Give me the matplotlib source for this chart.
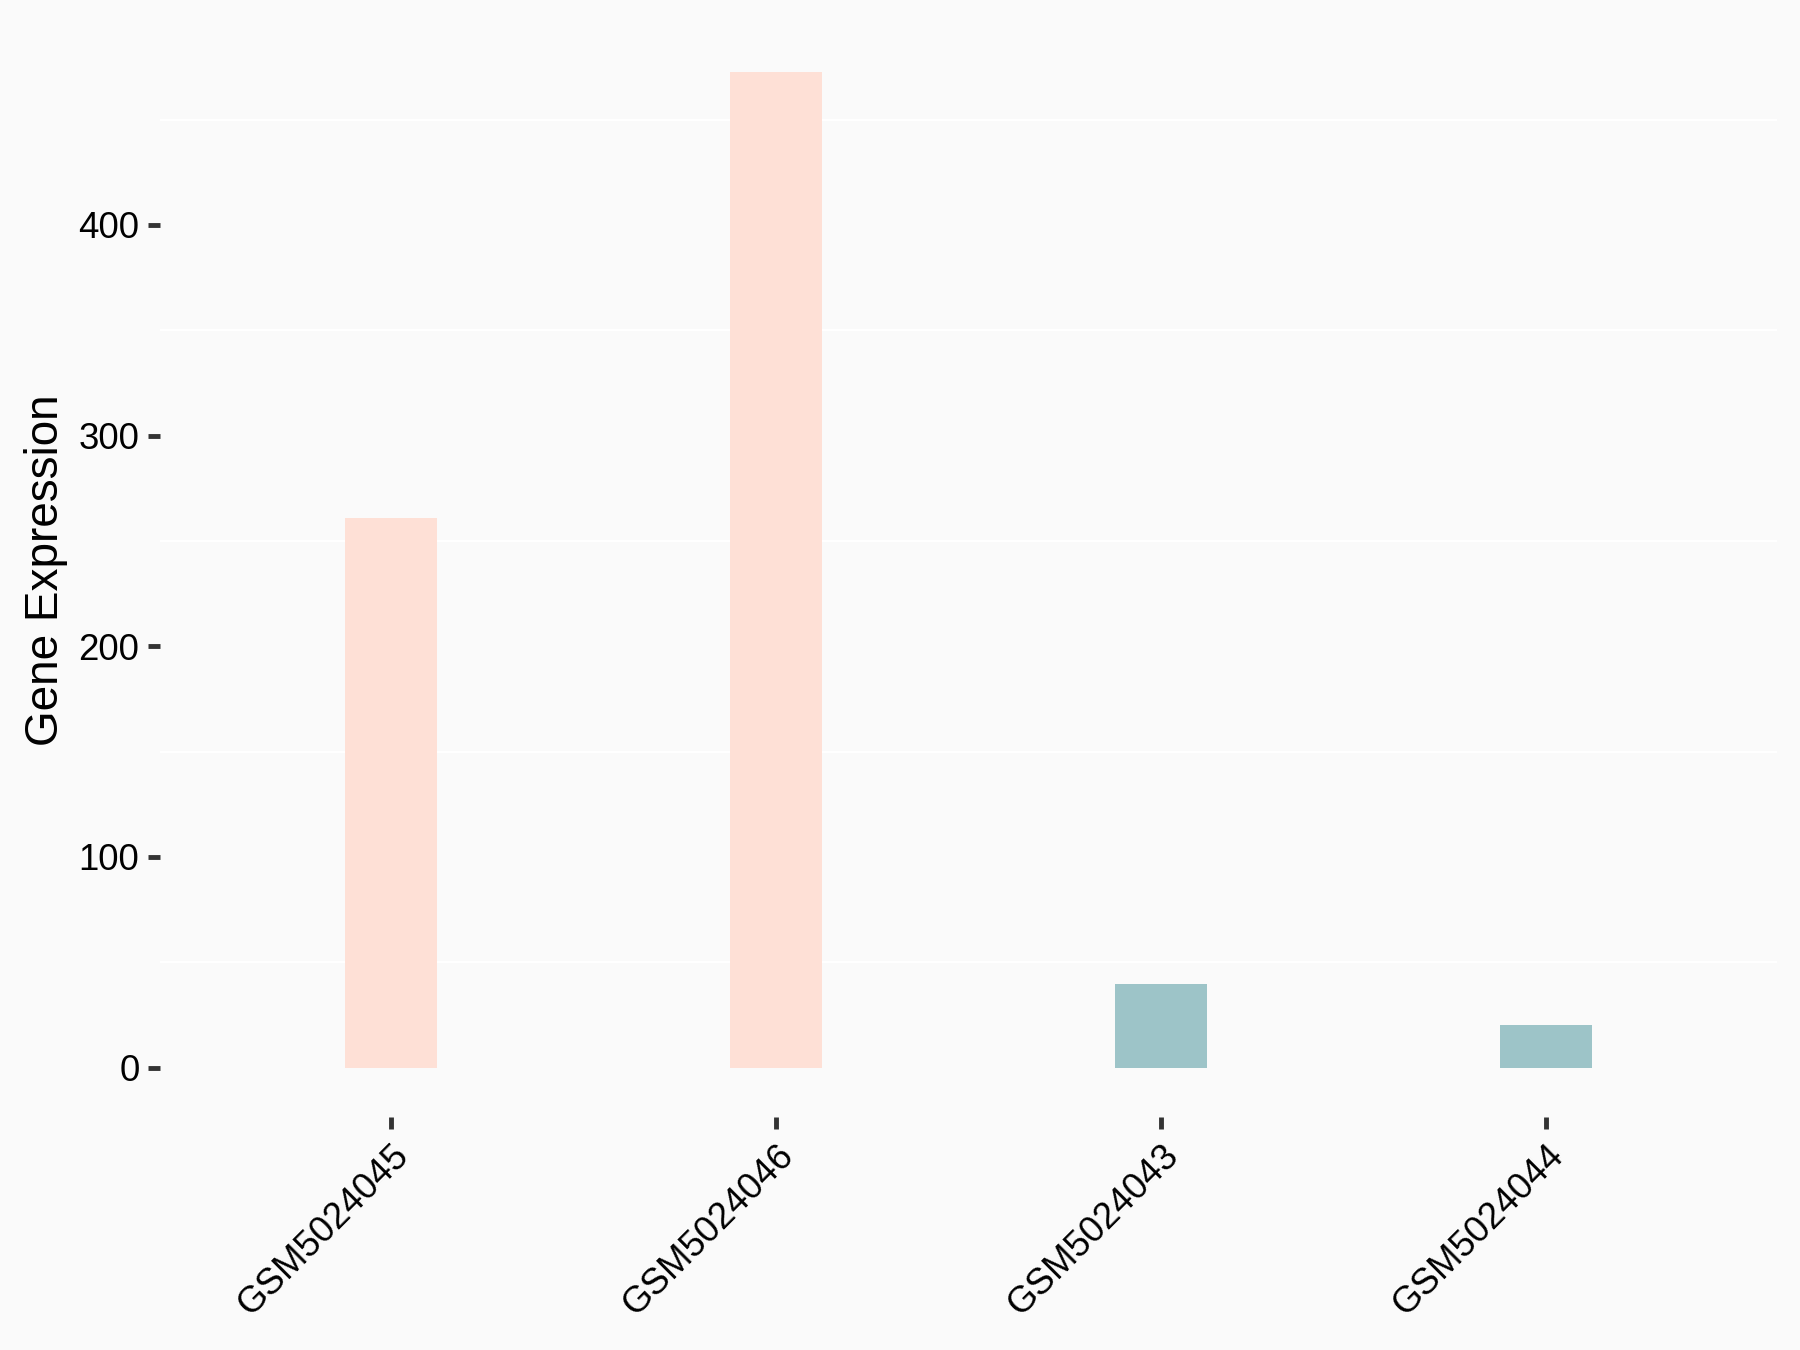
import matplotlib
matplotlib.use("Agg")
import matplotlib.pyplot as plt
from matplotlib.ticker import MultipleLocator

samples = ["GSM5024045", "GSM5024046", "GSM5024043", "GSM5024044"]
expression = [261.0, 472.5, 39.8, 20.2]
groups = ["A", "A", "B", "B"]
group_colors = {"A": "#FEE0D6", "B": "#9DC4C8"}
y_ticks = [0, 100, 200, 300, 400]

plt.rcParams['font.family'] = ['Liberation Sans', 'DejaVu Sans']

bg = "#FAFAFA"
fig = plt.figure(figsize=(18, 13.5), dpi=100, facecolor=bg)
ax = fig.add_axes([160/1800, 1 - 1117.4/1350, (1777-160)/1800, (1117.4-22.4)/1350])
ax.set_facecolor(bg)

x = list(range(1, len(samples) + 1))
ax.bar(x, expression, width=0.24, color=[group_colors[g] for g in groups], zorder=2)

ax.set_xlim(0.4, len(samples) + 0.6)
ymax = max(expression)
ax.set_ylim(-0.05 * ymax, 1.05 * ymax)

ax.set_yticks(y_ticks)
ax.yaxis.set_minor_locator(MultipleLocator(50))
ax.set_xticks(x)
ax.set_xticklabels(samples, rotation=45, ha='right', va='top', rotation_mode='anchor')

ax.grid(False)
for v in [50, 150, 250, 350, 450]:
    ax.axhline(v, color='white', lw=1.5, zorder=1)

for s in ax.spines.values():
    s.set_visible(False)

ax.tick_params(axis='both', which='major', length=8.3, width=3.5, color='#333333',
               labelsize=26.4, labelcolor='black', pad=6.5)
ax.tick_params(axis='both', which='minor', length=0)

ax.set_ylabel("Gene Expression", fontsize=33, color='black')
ax.yaxis.set_label_coords(-0.057, 0.5)

fig.savefig("out.png", dpi=100, facecolor=bg)
